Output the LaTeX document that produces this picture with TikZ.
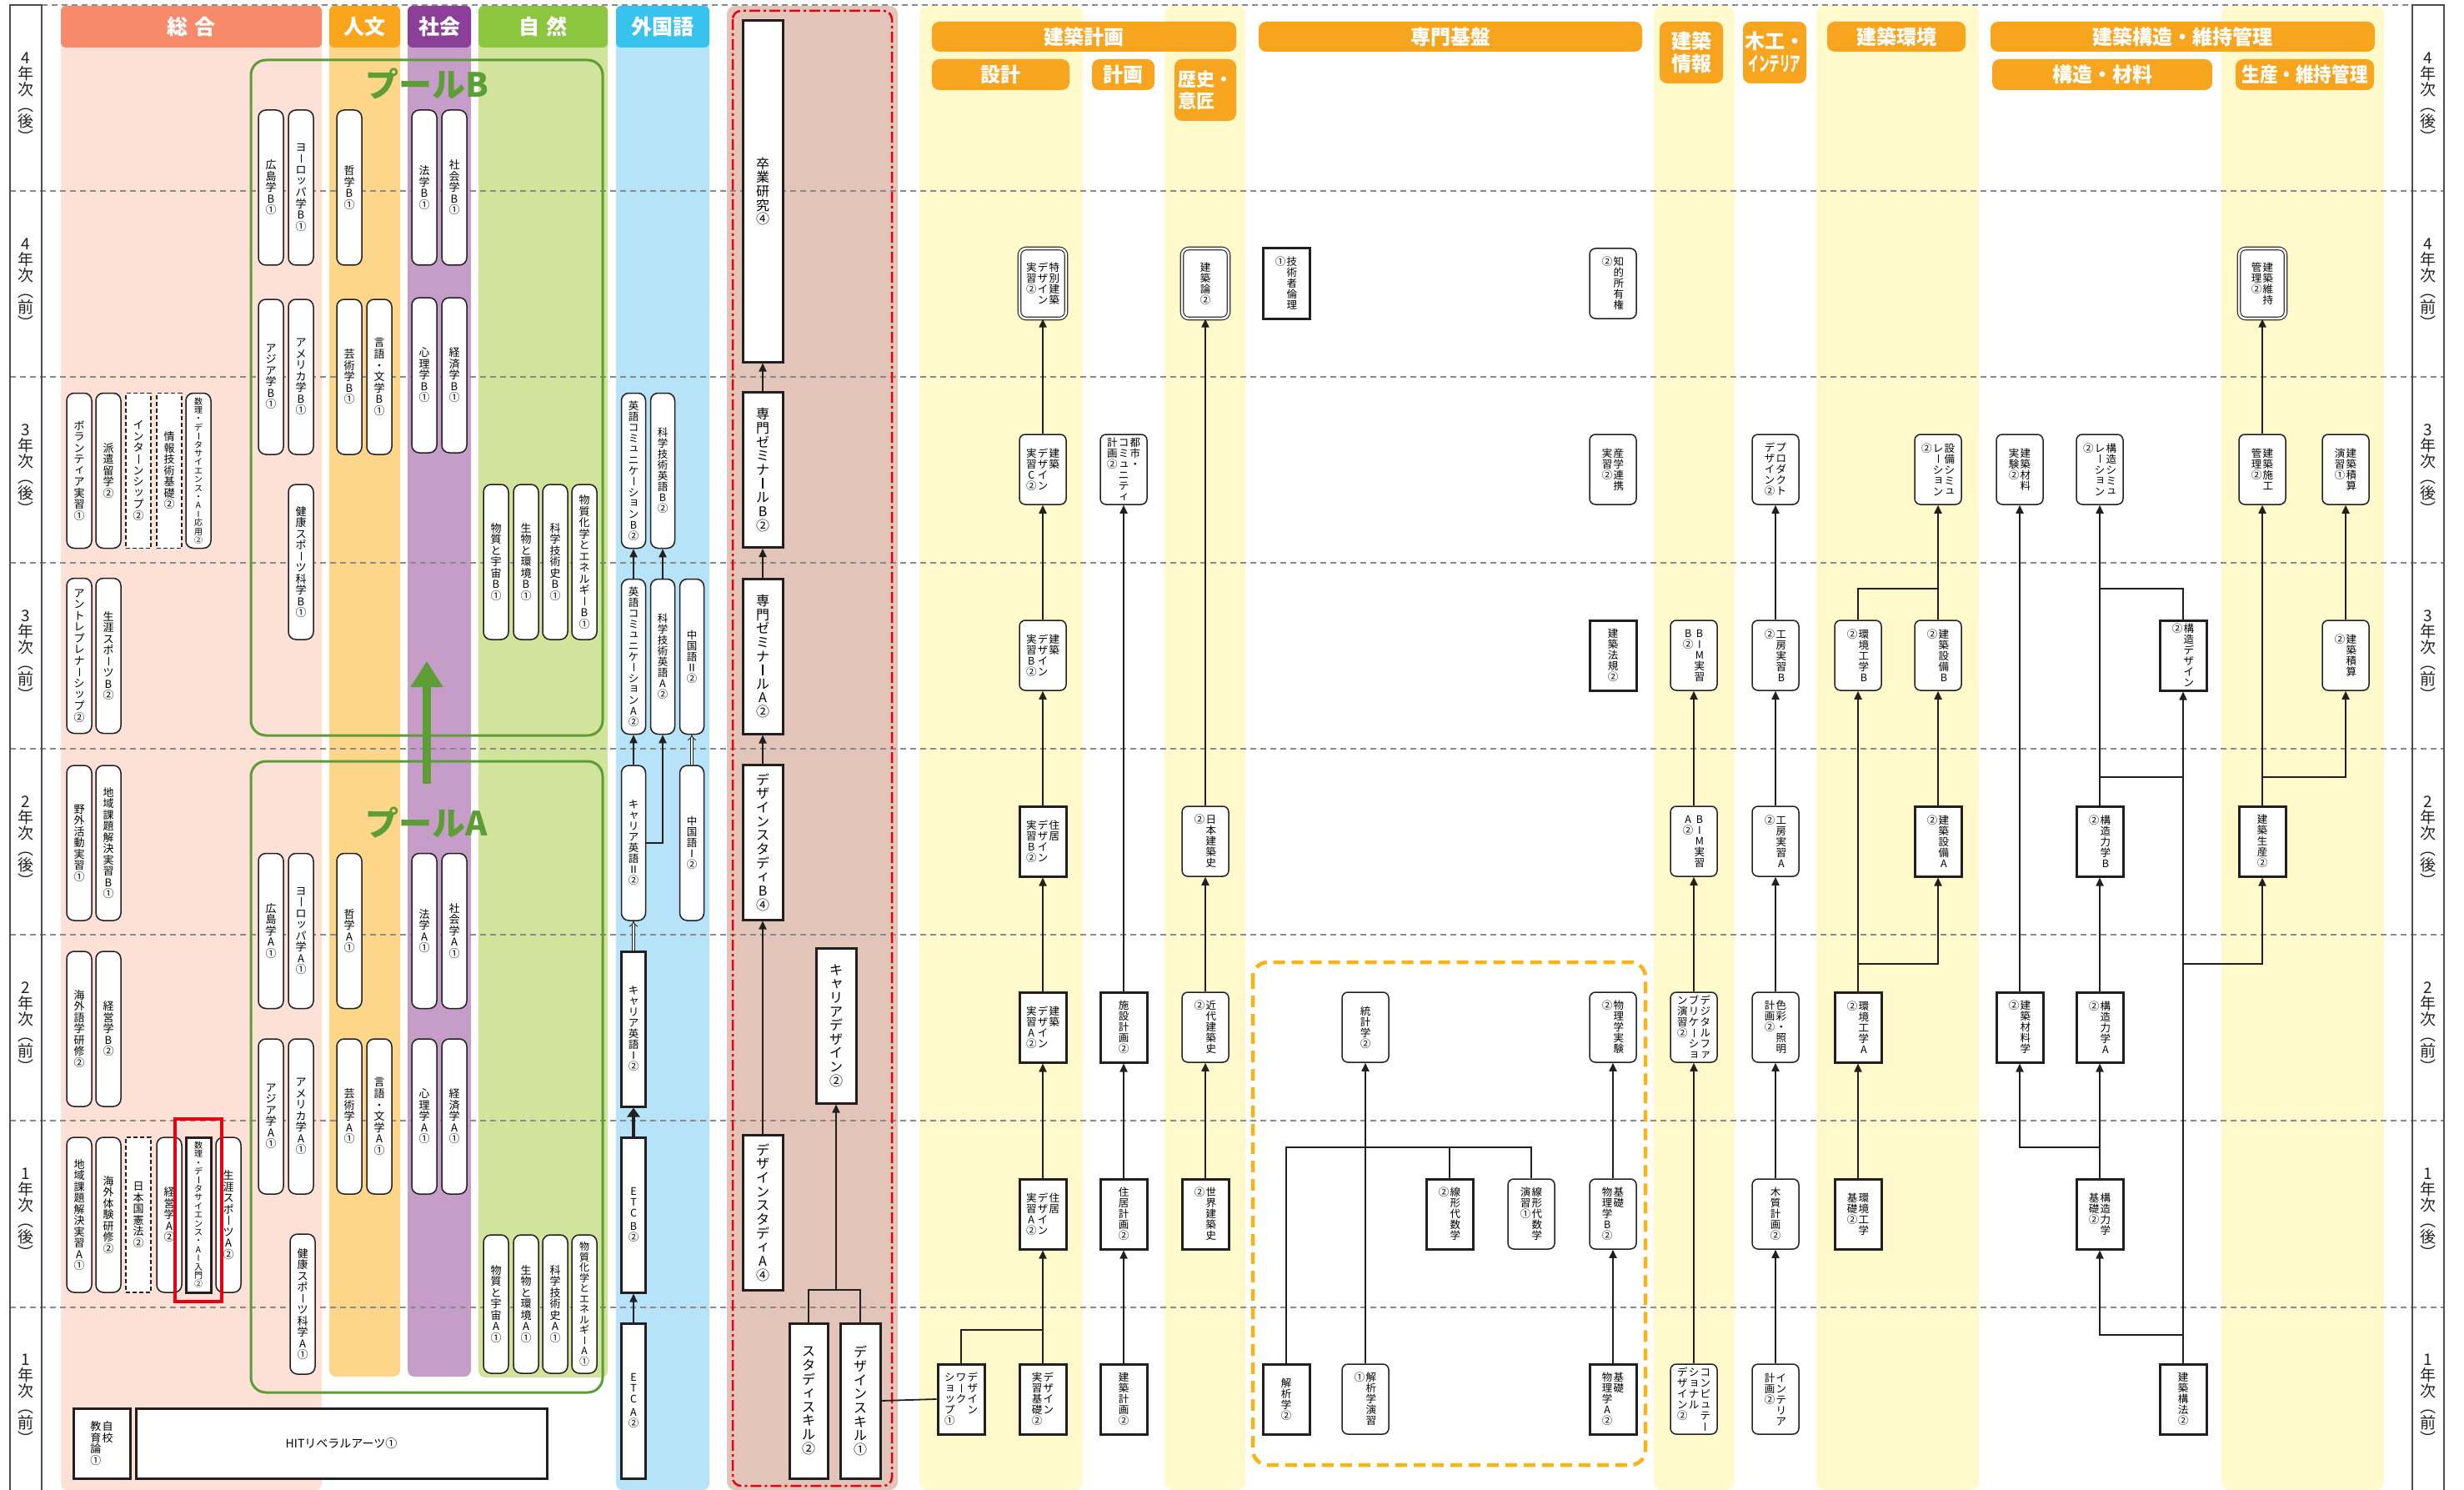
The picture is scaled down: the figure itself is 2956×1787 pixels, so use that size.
\documentclass[tikz,border=0pt]{standalone}
\usepackage{fontspec}
\usepackage{graphicx}
\usepackage{tikz}
\usetikzlibrary{arrows.meta,positioning}
\newfontfamily\jp{Noto Sans CJK JP}
\definecolor{ink}{HTML}{231F20}
\definecolor{framegray}{HTML}{4D4D4D}
\definecolor{rowgray}{HTML}{8A8A8A}
\definecolor{sogoH}{HTML}{F68A6B}
\definecolor{sogoL}{HTML}{FDE1D6}
\definecolor{jinbunH}{HTML}{F9A61C}
\definecolor{jinbunL}{HTML}{FDD68A}
\definecolor{shakaiH}{HTML}{8B3F98}
\definecolor{shakaiL}{HTML}{C69DC8}
\definecolor{shizenH}{HTML}{8CC63F}
\definecolor{shizenL}{HTML}{D2E39B}
\definecolor{gaiH}{HTML}{38C2EE}
\definecolor{gaiL}{HTML}{B7E3F8}
\definecolor{semiL}{HTML}{E2C4B9}
\definecolor{yelL}{HTML}{FFF9CC}
\definecolor{orangeH}{HTML}{F7A51E}
\definecolor{poolG}{HTML}{5C9E35}
\definecolor{redC}{HTML}{E60012}
\definecolor{dashO}{HTML}{F9B316}

% vertical (tategaki) text: columns separated by /, first column on the right
\makeatletter
\newbox\tate@box
\def\tgap{tgap}
\def\tatels{1.04}
\newcommand\tatecol[1]{\vtop{\baselineskip=\tatels em\lineskip=0pt\lineskiplimit=-100pt\tate@x#1\relax}}
\def\tate@x#1{\ifx#1\relax\else\tate@c{#1}\expandafter\tate@x\fi}
\def\tate@c#1{%
  \ifx#1\tgap\vskip.3em\else
  \ifx#1ー\hbox to1em{\hss\vrule width.07em height.8em depth0pt\hss}\else
  \in@{#1}{ッャュョィァェ}%
  \ifin@\hbox to1em{\hss\kern.1em\raise.1em\hbox{#1}\hss}\else
  \hbox to1em{\hss#1\hss}\fi\fi\fi}
\newcommand\tate[1]{\setbox\tate@box\hbox{}\tate@y#1/\relax/\box\tate@box}
\def\tate@y#1/{\ifx\relax#1\else\tate@add{#1}\expandafter\tate@y\fi}
\def\tate@add#1{\setbox\tate@box\hbox{\tatecol{#1}\ifdim\wd\tate@box>\z@\kern.1em\fi\unhbox\tate@box}}
\makeatother

\begin{document}
\begin{tikzpicture}[x=1pt,y=-1pt,
  every node/.style={inner sep=0pt},
  gbox/.style={draw=ink,fill=white,line width=1.5pt,rounded corners=9pt,minimum width=30pt,minimum height=186pt,font=\jp\fontsize{13}{13}\selectfont},
  gdash/.style={gbox,sharp corners,dash pattern=on 5pt off 3pt},
  gthick/.style={gbox,sharp corners,line width=3pt},
  fbox/.style={gbox,minimum width=29pt,font=\jp\fontsize{12.5}{13}\selectfont},
  fthick/.style={fbox,sharp corners,line width=3pt},
  zbox/.style={draw=ink,fill=white,line width=3pt,minimum width=48pt,minimum height=186pt,font=\jp\fontsize{16}{16}\selectfont},
  sbox/.style={draw=ink,fill=white,line width=1.5pt,rounded corners=7pt,minimum width=56pt,minimum height=84pt,font=\jp\fontsize{12.5}{13}\selectfont},
  sthick/.style={sbox,sharp corners,line width=3pt},
  sdouble/.style={sbox,double=white,double distance=2.4pt,line width=1.1pt,rounded corners=8pt},
  cat/.style={text=white,font=\jp\bfseries\fontsize{25}{27}\selectfont,rounded corners=6pt,minimum height=50pt},
  hdr/.style={fill=orangeH,text=white,font=\jp\bfseries\fontsize{24}{27}\selectfont,rounded corners=9pt},
  pool/.style={text=poolG,font=\jp\bfseries\fontsize{40}{40}\selectfont},
  yearlab/.style={font=\jp\fontsize{19}{19}\selectfont\def\tatels{1.0},text=ink},
  arrow/.style={draw=ink,line width=1.8pt,-{Triangle[length=10pt,width=9pt]}},
  link/.style={draw=ink,line width=1.8pt},
  dbl/.style={draw=ink,double,double distance=2.6pt,line width=0.9pt,-{Implies}},
  rowline/.style={draw=rowgray,line width=1.1pt,dash pattern=on 7pt off 5pt}]
\useasboundingbox (0,0) rectangle (2956,1787);
\fill[white] (0,0) rectangle (2956,1787);

% bands
\fill[sogoL,rounded corners=8pt] (73,7) rectangle (386,1787);
\fill[jinbunL,rounded corners=8pt] (395,7) rectangle (480,1651);
\fill[shakaiL,rounded corners=8pt] (489,7) rectangle (565,1651);
\fill[shizenL,rounded corners=8pt] (574,7) rectangle (729,1652);
\fill[gaiL,rounded corners=8pt] (739,7) rectangle (851,1787);
\fill[semiL,rounded corners=10pt] (872,7) rectangle (1077,1787);
\foreach \a/\b in {1103/1299,1397/1494,1984/2081,2179/2374,2665/2860}
  \fill[yelL,rounded corners=10pt] (\a,7) rectangle (\b,1787);

% semester lines
\draw[rowline] (50,6) -- (2894,6);
\foreach \y in {229,452,675,898,1121,1344,1568}
  \draw[rowline] (12,\y) -- (2932,\y);

% headers
\node[cat,fill=sogoH,minimum width=313pt] (hsogo) at (229.5,32) {総\hspace{8pt}合};
\node[cat,fill=jinbunH,minimum width=85pt] (hjinbun) at (437.5,32) {人文};
\node[cat,fill=shakaiH,minimum width=76pt] (hshakai) at (527,32) {社会};
\node[cat,fill=shizenH,minimum width=155pt] (hshizen) at (651.5,32) {自\hspace{8pt}然};
\node[cat,fill=gaiH,minimum width=112pt] (hgai) at (795,32) {外国語};
\node[hdr,minimum width=365pt,minimum height=36pt] (hkeikaku) at (1300.5,44) {建築計画};
\node[hdr,minimum width=165pt,minimum height=37pt] (hsekkei) at (1200.5,89.5) {設計};
\node[hdr,minimum width=75pt,minimum height=37pt] (hplan) at (1347.5,89.5) {計画};
\node[hdr,minimum width=74pt,minimum height=74pt,align=left,font=\jp\bfseries\fontsize{22}{26}\selectfont] (hrekishi) at (1446,108) {歴史・\\意匠};
\node[hdr,minimum width=460pt,minimum height=36pt] (hkiban) at (1740,44) {専門基盤};
\node[hdr,minimum width=76pt,minimum height=74pt,align=center] (hjoho) at (2029,63) {建築\\情報};
\node[hdr,minimum width=76pt,minimum height=74pt,align=center] (hmoku) at (2129,63) {木工・\\\scalebox{0.52}[1]{インテリア}};
\node[hdr,minimum width=166pt,minimum height=36pt] (hkankyo) at (2275,44) {建築環境};
\node[hdr,minimum width=461pt,minimum height=36pt] (hkozo) at (2618.5,44) {建築構造・維持管理};
\node[hdr,minimum width=264pt,minimum height=37pt] (hzairyo) at (2522,89.5) {構造・材料};
\node[hdr,minimum width=166pt,minimum height=37pt] (hseisan) at (2765,89.5) {\scalebox{0.9}[1]{生産・維持管理}};

% pools
\draw[poolG,line width=3pt,rounded corners=18pt] (301,72) rectangle (723,882);
\draw[poolG,line width=3pt,rounded corners=18pt] (301,913) rectangle (723,1670);
\node[pool] (plB) at (512,101) {プールB};
\node[pool] (plA) at (512,987) {プールA};
\coordinate (upA) at (512,940);
\coordinate (upB) at (512,793);
\draw[poolG,line width=10pt,-{Triangle[length=31pt,width=37pt]}] (upA) -- (upB);

% frames
\draw[redC,line width=2.5pt,rounded corners=10pt,dash pattern=on 13pt off 4pt on 3pt off 4pt] (879,13) rectangle (1070,1782);
\draw[dashO,line width=4.5pt,rounded corners=18pt,dash pattern=on 14pt off 8pt] (1503,1154) rectangle (1974,1757);

% pool B
\node[gbox] (hiroB) at (325,225) {\tate{広島学B①}};
\node[gbox] (euroB) at (361,225) {\tate{ヨーロッパ学B①}};
\node[gbox] (tetsuB) at (419,225) {\tate{哲学B①}};
\node[gbox] (houB) at (509,225) {\tate{法学B①}};
\node[gbox] (shakaiB) at (545,225) {\tate{社会学B①}};
\node[gbox] (asiaB) at (325,452) {\tate{アジア学B①}};
\node[gbox] (ameB) at (361,452) {\tate{アメリカ学B①}};
\node[gbox] (geiB) at (419,452) {\tate{芸術学B①}};
\node[gbox] (gengoB) at (455,452) {\tate{言語・文学B①}};
\node[gbox] (shinB) at (509,450) {\tate{心理学B①}};
\node[gbox] (keizaiB) at (545,450) {\tate{経済学B①}};
\node[gbox] (kenkoB) at (361,674) {\tate{健康スポーツ科学B①}};
\node[gbox] (uchuB) at (595,674) {\tate{物質と宇宙B①}};
\node[gbox] (seibutsuB) at (631,674) {\tate{生物と環境B①}};
\node[gbox] (kagakuB) at (666,674) {\tate{科学技術史B①}};
\node[gbox] (eneB) at (701,674) {\tate{物質化学とエネルギーB①}};

% pool A
\node[gbox] (hiroA) at (325,1116.5) {\tate{広島学A①}};
\node[gbox] (euroA) at (361,1116.5) {\tate{ヨーロッパ学A①}};
\node[gbox] (tetsuA) at (419,1116.5) {\tate{哲学A①}};
\node[gbox] (houA) at (509,1116.5) {\tate{法学A①}};
\node[gbox] (shakaiA) at (545,1116.5) {\tate{社会学A①}};
\node[gbox] (asiaA) at (325,1339) {\tate{アジア学A①}};
\node[gbox] (ameA) at (361,1339) {\tate{アメリカ学A①}};
\node[gbox] (geiA) at (419,1339) {\tate{芸術学A①}};
\node[gbox] (gengoA) at (455,1339) {\tate{言語・文学A①}};
\node[gbox] (shinA) at (509,1339) {\tate{心理学A①}};
\node[gbox] (keizaiA) at (545,1339) {\tate{経済学A①}};
\node[gbox,minimum height=168pt] (kenkoA) at (363,1564) {\tate{健康スポーツ科学A①}};
\node[gbox,minimum height=166pt] (uchuA) at (595,1564) {\tate{物質と宇宙A①}};
\node[gbox,minimum height=166pt] (seibutsuA) at (631,1564) {\tate{生物と環境A①}};
\node[gbox,minimum height=166pt] (kagakuA) at (666,1564) {\tate{科学技術史A①}};
\node[gbox,minimum height=166pt,font=\jp\fontsize{12}{12}\selectfont] (eneA) at (701,1564) {\tate{物質化学とエネルギーA①}};

% sogo
\node[gbox] (volun) at (95,564.5) {\tate{ボランティア実習①}};
\node[gbox] (haken) at (130,564.5) {\tate{派遣留学②}};
\node[gdash] (intern) at (166,564.5) {\tate{インターンシップ②}};
\node[gdash] (johokiso) at (203,564.5) {\tate{情報技術基礎②}};
\node[gbox,font=\jp\fontsize{10}{10}\selectfont] (suriApp) at (238,564.5) {\tate{数理・データサイエンス・AI応用②}};
\node[gbox] (entre) at (95,786.5) {\tate{アントレプレナーシップ②}};
\node[gbox] (shogaiB) at (130,786.5) {\tate{生涯スポーツB②}};
\node[gbox] (yagai) at (95,1011) {\tate{野外活動実習①}};
\node[gbox] (chiikiB) at (130,1011) {\tate{地域課題解決実習B①}};
\node[gbox] (gogaku) at (95,1234) {\tate{海外語学研修②}};
\node[gbox] (keieiB) at (130,1234) {\tate{経営学B②}};
\node[gbox] (chiikiA) at (95,1457) {\tate{地域課題解決実習A①}};
\node[gbox] (taiken) at (130,1457) {\tate{海外体験研修②}};
\node[gdash] (kenpo) at (166,1457) {\tate{日本国憲法②}};
\node[gbox] (keieiA) at (203,1457) {\tate{経営学A②}};
\node[gthick,font=\jp\fontsize{10}{10}\selectfont] (suriIntro) at (238,1457) {\tate{数理・データサイエンス・AI入門②}};
\node[gbox] (shogaiA) at (274,1457) {\tate{生涯スポーツA②}};
\draw[redC,line width=4pt] (210,1342) rectangle (266,1561);
\node[gthick,minimum width=68pt,minimum height=84pt] (jiko) at (122,1731) {\tate{自校/教育論①}};
\node[gthick,minimum width=493pt,minimum height=84pt,font=\jp\fontsize{14}{14}\selectfont] (hit) at (409.5,1731) {HITリベラルアーツ①};

% gaikokugo
\node[fbox] (ecB) at (760,564.5) {\tate{英語コミュニケーションB②}};
\node[fbox] (kgeB) at (795,564.5) {\tate{科学技術英語B②}};
\node[fbox] (ecA) at (760,787.5) {\tate{英語コミュニケーションA②}};
\node[fbox] (kgeA) at (795,787.5) {\tate{科学技術英語A②}};
\node[fbox] (chu2) at (830,787.5) {\tate{中国語Ⅱ②}};
\node[fbox] (car2) at (760,1011) {\tate{キャリア英語Ⅱ②}};
\node[fbox] (chu1) at (830,1011) {\tate{中国語Ⅰ②}};
\node[fthick] (car1) at (760,1234) {\tate{キャリア英語Ⅰ②}};
\node[fthick] (etcB) at (760,1457) {\tate{ETC\tgap B②}};
\node[fthick] (etcA) at (760,1680) {\tate{ETC\tgap A②}};

% seminar
\node[zbox,minimum height=409pt] (sotsu) at (915,229.5) {\tate{卒業研究④}};
\node[zbox] (zemiB) at (915,563.5) {\tate{専門ゼミナールB②}};
\node[zbox] (zemiA) at (915,787) {\tate{専門ゼミナールA②}};
\node[zbox] (dsB) at (915,1010) {\tate{デザインスタディB④}};
\node[zbox] (cdes) at (1003,1230) {\tate{キャリアデザイン②}};
\node[zbox] (dsA) at (915,1454) {\tate{デザインスタディA④}};
\node[zbox,minimum width=46pt] (sskill) at (970,1680) {\tate{スタディスキル②}};
\node[zbox] (dskill) at (1032,1680) {\tate{デザインスキル①}};

% sekkei
\node[sdouble] (tokubetsu) at (1251,340) {\tate{特別建築/デザイン/実習②}};
\node[sbox] (kenC) at (1251,563) {\tate{建築/デザイン/実習C②}};
\node[sbox] (kenB) at (1251,786) {\tate{建築/デザイン/実習B②}};
\node[sthick] (jyuB) at (1251,1009) {\tate{住居/デザイン/実習B②}};
\node[sthick] (kenA) at (1251,1232) {\tate{建築/デザイン/実習A②}};
\node[sthick] (jyuA) at (1251,1456) {\tate{住居/デザイン/実習A②}};
\node[sthick] (dkiso) at (1251,1678) {\tate{デザイン/実習基礎②}};
\node[sthick] (dws) at (1153,1678) {\tate{デザイン/ワーク/ショップ①}};

% keikaku
\node[sbox] (toshi) at (1348,563) {\tate{都市・/コミュニティ/計画②}};
\node[sthick] (shisetsu) at (1348,1232) {\tate{施設計画②}};
\node[sthick] (jplan) at (1348,1456) {\tate{住居計画②}};
\node[sthick] (kplan) at (1348,1678) {\tate{建築計画②}};

% rekishi
\node[sdouble] (kenron) at (1446,340) {\tate{建築論②}};
\node[sbox] (nihon) at (1446,1009) {\tate{日本建築史/②}};
\node[sbox] (kindai) at (1446,1232) {\tate{近代建築史/②}};
\node[sthick] (sekai) at (1446,1456) {\tate{世界建築史/②}};

% kiban
\node[sthick] (rinri) at (1543,340) {\tate{技術者倫理/①}};
\node[sbox] (chiteki) at (1935,340) {\tate{知的所有権/②}};
\node[sbox] (sangaku) at (1935,563) {\tate{産学連携/実習②}};
\node[sthick] (hoki) at (1935,786) {\tate{建築法規②}};
\node[sbox] (toukei) at (1638,1232) {\tate{統計学②}};
\node[sbox] (jikken) at (1935,1232) {\tate{物理学実験/②}};
\node[sthick] (senkei) at (1739,1456) {\tate{線形代数学/②}};
\node[sbox] (senkeien) at (1837,1456) {\tate{線形代数学/演習①}};
\node[sbox] (butsuB) at (1935,1456) {\tate{基礎/物理学B②}};
\node[sthick] (kaiseki) at (1543,1678) {\tate{解析学②}};
\node[sbox] (kaisekien) at (1638,1678) {\tate{解析学演習/①}};
\node[sthick] (butsuA) at (1935,1678) {\tate{基礎/物理学A②}};

% joho
\node[sbox] (bimB) at (2032,786) {\tate{BIM実習/B②}};
\node[sbox] (bimA) at (2032,1009) {\tate{BIM実習/A②}};
\node[sbox] (digi) at (2032,1232) {\tate{デジタルファ/ブリケーショ/ン演習②}};
\node[sbox] (compu) at (2032,1678) {\tate{コンピュテー/ショナル/デザイン②}};

% mokko
\node[sbox] (product) at (2130,563) {\tate{プロダクト/デザイン②}};
\node[sbox] (kobB) at (2130,786) {\tate{工房実習B/②}};
\node[sbox] (kobA) at (2130,1009) {\tate{工房実習A/②}};
\node[sbox] (shikisai) at (2130,1232) {\tate{色彩・照明/計画②}};
\node[sbox] (mokushitsu) at (2130,1456) {\tate{木質計画②}};
\node[sbox] (interior) at (2130,1678) {\tate{インテリア/計画②}};

% kankyo
\node[sbox] (setsim) at (2325,563) {\tate{設備シミュ/レーション/②}};
\node[sbox] (kanB) at (2229,786) {\tate{環境工学B/②}};
\node[sbox] (setB) at (2325,786) {\tate{建築設備B/②}};
\node[sthick] (setA) at (2325,1009) {\tate{建築設備A/②}};
\node[sthick] (kanA) at (2229,1232) {\tate{環境工学A/②}};
\node[sthick] (kanKiso) at (2229,1456) {\tate{環境工学/基礎②}};

% kozo
\node[sbox] (zaiJikken) at (2423,563) {\tate{建築材料/実験②}};
\node[sbox] (kozoSim) at (2519,563) {\tate{構造シミュ/レーション/②}};
\node[sthick] (kozoDes) at (2619,786) {\tate{構造デザイン/②}};
\node[sthick] (kozoB) at (2519,1009) {\tate{構造力学B/②}};
\node[sthick] (zaiGaku) at (2423,1232) {\tate{建築材料学/②}};
\node[sthick] (kozoA) at (2519,1232) {\tate{構造力学A/②}};
\node[sthick] (kozoKiso) at (2519,1456) {\tate{構造力学/基礎②}};
\node[sthick] (koho) at (2619,1678) {\tate{建築構法②}};

% seisan
\node[sdouble] (iji) at (2714,340) {\tate{建築維持/管理②}};
\node[sbox] (seko) at (2714,563) {\tate{建築施工/管理②}};
\node[sbox] (sekiEn) at (2814,563) {\tate{建築積算/演習①}};
\node[sbox] (sekisan) at (2814,786) {\tate{建築積算/②}};
\node[sthick] (seisan) at (2714,1009) {\tate{建築生産②}};

% connectors
\draw[arrow] (ecA.north) -- (ecB.south);
\draw[arrow] (kgeA.north) -- (kgeB.south);
\draw[arrow] (car2.north) -- (ecA.south);
\draw[arrow] (car2.east) -| (kgeA.south);
\draw[dbl] (chu1.north) -- (chu2.south);
\draw[dbl] (car1.north) -- (car2.south);
\draw[draw=ink,line width=4pt,-{Triangle[length=11pt,width=15pt]}] (etcB.north) -- (car1.south);
\draw[arrow] (etcA.north) -- (etcB.south);

\draw[arrow] (zemiB.north) -- (sotsu.south);
\draw[arrow] (zemiA.north) -- (zemiB.south);
\draw[arrow] (dsB.north) -- (zemiA.south);
\draw[arrow] (dsA.north) -- (dsB.south);
\coordinate (jskill) at (1003,1547);
\draw[link] (sskill.north) |- (jskill) -| (dskill.north);
\draw[arrow] (jskill) -- (cdes.south);
\draw[link] (dskill.east) -- (dws.west);

\coordinate (jws) at (1251,1595);
\draw[link] (dws.north) |- (jws);
\draw[arrow] (dkiso.north) -- (jyuA.south);
\draw[arrow] (jyuA.north) -- (kenA.south);
\draw[arrow] (kenA.north) -- (jyuB.south);
\draw[arrow] (jyuB.north) -- (kenB.south);
\draw[arrow] (kenB.north) -- (kenC.south);
\draw[arrow] (kenC.north) -- (tokubetsu.south);

\draw[arrow] (kplan.north) -- (jplan.south);
\draw[arrow] (jplan.north) -- (shisetsu.south);
\draw[arrow] (shisetsu.north) -- (toshi.south);

\draw[arrow] (sekai.north) -- (kindai.south);
\draw[arrow] (kindai.north) -- (nihon.south);
\draw[arrow] (nihon.north) -- (kenron.south);

\coordinate (jkai) at (1638,1376);
\draw[link] (kaiseki.north) |- (jkai) -| (senkeien.north);
\draw[link] (senkei.north) -- (senkei.north |- jkai);
\draw[arrow] (kaisekien.north) -- (toukei.south);
\draw[arrow] (butsuA.north) -- (butsuB.south);
\draw[arrow] (butsuB.north) -- (jikken.south);

\draw[arrow] (compu.north) -- (digi.south);
\draw[arrow] (digi.north) -- (bimA.south);
\draw[arrow] (bimA.north) -- (bimB.south);

\draw[arrow] (interior.north) -- (mokushitsu.south);
\draw[arrow] (mokushitsu.north) -- (shikisai.south);
\draw[arrow] (shikisai.north) -- (kobA.south);
\draw[arrow] (kobA.north) -- (kobB.south);
\draw[arrow] (kobB.north) -- (product.south);

\draw[arrow] (kanKiso.north) -- (kanA.south);
\draw[arrow] (kanA.north) -- (kanB.south);
\coordinate (jsetA) at (2229,1156);
\draw[arrow] (jsetA) -| (setA.south);
\draw[arrow] (setA.north) -- (setB.south);
\coordinate (jsetB) at (2325,706);
\draw[link] (kanB.north) |- (jsetB);
\draw[arrow] (setB.north) -- (setsim.south);

\draw[arrow] (kozoKiso.north) -- (kozoA.south);
\coordinate (jzai) at (2519,1376);
\draw[arrow] (jzai) -| (zaiGaku.south);
\draw[arrow] (zaiGaku.north) -- (zaiJikken.south);
\draw[arrow] (kozoA.north) -- (kozoB.south);
\draw[arrow] (kozoB.north) -- (kozoSim.south);
\coordinate (jdesA) at (2519,932);
\draw[link] (jdesA) -- (jdesA -| kozoDes.south);
\coordinate (jdesB) at (2519,706);
\draw[link] (kozoDes.north) |- (jdesB);
\draw[arrow] (koho.north) -- (kozoDes.south);
\coordinate (jkiso) at (2619,1601);
\draw[arrow] (jkiso) -| (kozoKiso.south);
\coordinate (jsei) at (2619,1156);
\draw[arrow] (jsei) -| (seisan.south);

\draw[arrow] (seisan.north) -- (seko.south);
\coordinate (jseki) at (2714,932);
\draw[arrow] (jseki) -| (sekisan.south);
\draw[arrow] (sekisan.north) -- (sekiEn.south);
\draw[arrow] (seko.north) -- (iji.south);

% semester labels
\draw[framegray,line width=1.4pt] (12,1787) |- (50,6) -- (50,1787);
\draw[framegray,line width=1.4pt] (2894,1787) |- (2932,6) -- (2932,1787);
\foreach \lab [count=\i from 0] in {4年次︵後︶,4年次︵前︶,3年次︵後︶,3年次︵前︶,2年次︵後︶,2年次︵前︶,1年次︵後︶,1年次︵前︶}{
  \node[yearlab] (ylL\i) at (31,{117.5+223*\i}) {\expandafter\tate\expandafter{\lab}};
  \node[yearlab] (ylR\i) at (2913,{117.5+223*\i}) {\expandafter\tate\expandafter{\lab}};
}
\end{tikzpicture}
\end{document}
